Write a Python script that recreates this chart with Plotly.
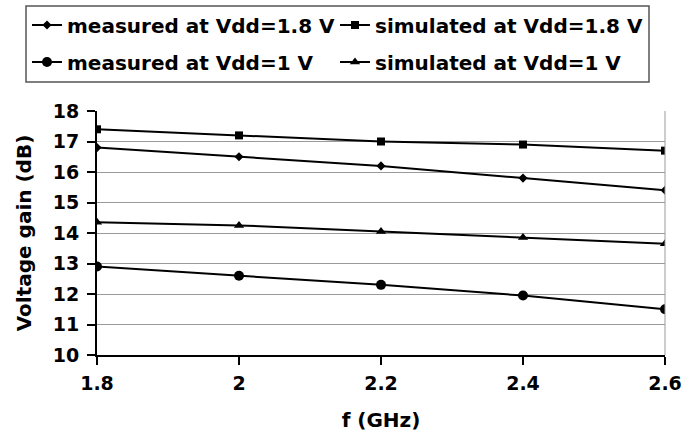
import plotly.graph_objects as go

freq = [1.8, 2.0, 2.2, 2.4, 2.6]
meas_18 = [16.8, 16.5, 16.2, 15.8, 15.4]
sim_18 = [17.4, 17.2, 17.0, 16.9, 16.7]
meas_1 = [12.9, 12.6, 12.3, 11.95, 11.5]
sim_1 = [14.35, 14.25, 14.05, 13.85, 13.65]
xticks = ["1.8", "2", "2.2", "2.4", "2.6"]
yticks = list(range(10, 19))

names = ["measured at Vdd=1.8 V", "simulated at Vdd=1.8 V",
         "measured at Vdd=1 V", "simulated at Vdd=1 V"]
series = [meas_18, sim_18, meas_1, sim_1]
symbols = ["diamond", "square", "circle", "triangle-up"]
sizes = [7, 8, 10, 9]
legends = ["legend", "legend", "legend2", "legend2"]

W, H = 686, 432
ML, MR, MT, MB = 97, 21, 111, 77
PW, PH = W - ML - MR, H - MT - MB

FAM = "DejaVu Sans, sans-serif"


def px_x(p):
    return (p - ML) / PW


def px_y(p):
    return (H - MB - p) / PH


fig = go.Figure()
for n, s, sym, sz, lg in zip(names, series, symbols, sizes, legends):
    fig.add_trace(go.Scatter(x=freq, y=s, name="<b>" + n + "</b>", mode="lines+markers",
                             legend=lg,
                             line=dict(color="black", width=2),
                             marker=dict(symbol=sym, size=sz, color="black")))

leg_common = dict(orientation="h", xref="paper", yref="paper",
                  xanchor="left", yanchor="middle",
                  bgcolor="rgba(0,0,0,0)", borderwidth=0,
                  entrywidth=263, entrywidthmode="pixels", itemwidth=30,
                  font=dict(family=FAM, size=20, color="black"))

fig.update_layout(
    width=W, height=H,
    margin=dict(l=ML, r=MR, t=MT, b=MB, autoexpand=False),
    paper_bgcolor="white", plot_bgcolor="white",
    font=dict(family=FAM, size=19, color="black"),
    showlegend=True,
    legend=dict(x=px_x(27), y=px_y(25), **leg_common),
    legend2=dict(x=px_x(27), y=px_y(62), **leg_common),
    xaxis=dict(range=[1.8, 2.6], tickvals=freq, ticktext=["<b>" + t + "</b>" for t in xticks],
               showgrid=False, zeroline=False, showline=True, linecolor="black", linewidth=2,
               ticks="outside", ticklen=8, tickwidth=2, tickcolor="black",
               ticklabelstandoff=2,
               tickfont=dict(family=FAM, size=19),
               title=dict(text="<b>f (GHz)</b>", font=dict(family=FAM, size=20), standoff=20)),
    yaxis=dict(range=[10, 18], tickvals=yticks, ticktext=["<b>%d</b>" % v for v in yticks],
               showgrid=True, gridcolor="#9a9a9a", gridwidth=1,
               zeroline=False, showline=True, linecolor="black", linewidth=2,
               ticks="outside", ticklen=8, tickwidth=2, tickcolor="black",
               ticklabelstandoff=4,
               tickfont=dict(family=FAM, size=19),
               title=dict(text="<b>Voltage gain (dB)</b>", font=dict(family=FAM, size=20), standoff=16)),
)
# right border of plot area
fig.add_shape(type="line", xref="paper", yref="paper", x0=1, x1=1, y0=0, y1=1,
              line=dict(color="#9a9a9a", width=1))
# legend frame
fig.add_shape(type="rect", xref="paper", yref="paper",
              x0=px_x(26), x1=px_x(649), y0=px_y(82), y1=px_y(6),
              line=dict(color="#555555", width=1.5), fillcolor="rgba(0,0,0,0)")
fig.write_html("out.html", config={"displayModeBar": False},
               post_script="document.body.style.margin='0';document.body.style.padding='0';")
